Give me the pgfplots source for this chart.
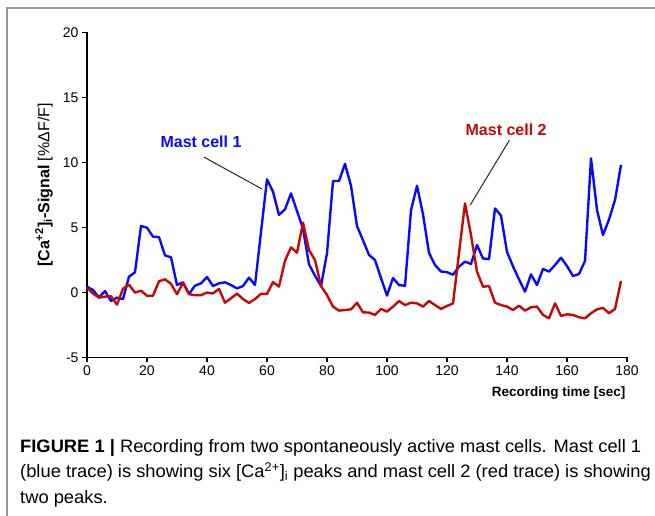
\documentclass[border=0pt]{standalone}
\usepackage{fontspec}
\setmainfont{Liberation Sans}
\usepackage{pgfplots}
\pgfplotsset{compat=1.18}
\definecolor{cblue}{RGB}{10,10,250}
\definecolor{cred}{RGB}{196,8,8}
\definecolor{framegray}{RGB}{150,150,150}
\newsavebox\capbox
\begin{document}
\sbox\capbox{\fontsize{18}{18}\selectfont\textbf{FIGURE 1 |} Recording from two spontaneously active mast cells. Mast cell 1}%
\pgfmathsetmacro\sx{621/\the\wd\capbox}%
\begin{tikzpicture}
\path[use as bounding box] (0pt,0pt) rectangle (655pt,-515pt);
\draw[framegray, line width=1.5pt] (7pt,-516pt) -- (7pt,-8pt) -- (656pt,-8pt);
\begin{axis}[
  at={(87pt,-357.3pt)}, anchor=south west,
  scale only axis, width=540pt, height=325pt,
  xmin=0, xmax=180, ymin=-5, ymax=20,
  xtick={0,20,...,180}, ytick={-5,0,...,20},
  axis x line=bottom, axis y line=left,
  axis line style={-, line width=1.2pt, black},
  tick align=outside, major tick length=5pt,
  tick style={black, line width=1.2pt},
  ticklabel style={font=\fontsize{14}{14}\selectfont},
  /pgf/number format/assume math mode=true,
  clip=false,
]
\addplot[cblue, line width=2.4pt, line join=round] coordinates {
(0,0.43)(2,0.18)(4,-0.39)(6,0.1)(8,-0.67)(10,-0.41)(12,-0.52)(14,1.2)(16,1.54)(18,5.1)
(20,4.97)(22,4.28)(24,4.25)(26,2.84)(28,2.69)(30,0.56)(32,0.77)(34,-0.13)(36,0.51)(38,0.69)
(40,1.18)(42,0.48)(44,0.69)(46,0.77)(48,0.56)(50,0.3)(52,0.48)(54,1.13)(56,0.56)(60,8.69)
(62,7.74)(64,5.95)(66,6.38)(68,7.61)(70,6.25)(72,4.9)(74,2.15)(76,1.28)(78,0.48)(80,3.0)
(82,8.56)(84,8.56)(86,9.88)(88,8.2)(90,5.1)(92,4.0)(94,2.88)(96,2.48)(98,1.1)(100,-0.25)
(102,1.1)(104,0.56)(106,0.5)(108,6.3)(110,8.2)(112,6.0)(114,3.03)(116,2.1)(118,1.6)(120,1.55)
(122,1.35)(124,1.97)(126,2.36)(128,2.18)(130,3.64)(132,2.6)(134,2.55)(136,6.45)(138,5.9)(140,3.1)
(142,2.0)(144,1.0)(146,0.05)(148,1.38)(150,0.56)(152,1.8)(154,1.59)(156,2.1)(158,2.66)(160,2.02)
(162,1.25)(164,1.41)(166,2.41)(168,10.3)(170,6.33)(172,4.4)(174,5.6)(176,7.1)(178,9.8)
};
\addplot[cred, line width=2.4pt, line join=round] coordinates {
(0,0.37)(2,-0.1)(4,-0.41)(6,-0.33)(8,-0.3)(10,-0.95)(12,0.28)(14,0.58)(16,-0.02)(18,0.12)
(20,-0.27)(22,-0.26)(24,0.85)(26,1.0)(28,0.65)(30,-0.15)(32,0.72)(34,-0.14)(36,-0.23)(38,-0.22)
(40,-0.02)(42,-0.09)(44,0.27)(46,-0.8)(48,-0.46)(50,-0.1)(52,-0.52)(54,-0.82)(56,-0.52)(58,-0.12)
(60,-0.12)(62,0.78)(64,0.44)(66,2.43)(68,3.46)(70,3.05)(72,5.36)(74,3.25)(76,2.48)(78,0.48)
(80,-0.21)(82,-1.1)(84,-1.41)(86,-1.36)(88,-1.31)(90,-0.8)(92,-1.54)(94,-1.56)(96,-1.74)(98,-1.28)
(100,-1.49)(102,-1.1)(104,-0.67)(106,-0.98)(108,-0.8)(110,-0.85)(112,-1.1)(114,-0.67)(116,-0.98)(118,-1.28)
(120,-1.05)(122,-0.85)(126,6.84)(128,4.4)(130,1.59)(132,0.43)(134,0.48)(136,-0.8)(138,-0.98)(140,-1.1)
(142,-1.36)(144,-1.03)(146,-1.41)(148,-1.15)(150,-1.1)(152,-1.74)(154,-2.0)(156,-0.85)(158,-1.82)(160,-1.69)
(162,-1.74)(164,-1.92)(166,-2.0)(168,-1.61)(170,-1.31)(172,-1.2)(174,-1.61)(176,-1.28)(178,0.87)
};
\draw[black!85, line width=1pt] (axis cs:39,10.4) -- (axis cs:58.3,7.95);
\draw[black!85, line width=1pt] (axis cs:140.8,11.7) -- (axis cs:127.7,6.7);
\node[cblue, font=\bfseries\fontsize{16}{16}\selectfont] at (axis cs:38,11.56) {Mast cell 1};
\node[cred, font=\bfseries\fontsize{16}{16}\selectfont] at (axis cs:139.7,12.5) {Mast cell 2};
\end{axis}
\node[anchor=east, font=\bfseries\fontsize{13.5}{13.5}\selectfont] at (629pt,-393pt) {Recording time [sec]};
\node[rotate=90, font=\fontsize{16}{16}\selectfont] at (44pt,-185pt) {\textbf{[Ca\textsuperscript{+2}]\textsubscript{i}-Signal} [\%ΔF/F]};
\node[anchor=base west, inner sep=0pt] at (20pt,-452pt) {\scalebox{\sx}[1]{\usebox\capbox}};
\node[anchor=base west, inner sep=0pt] at (20pt,-477.5pt) {\scalebox{\sx}[1]{\fontsize{18}{18}\selectfont (blue trace) is showing six [Ca\textsuperscript{2+}]\textsubscript{i} peaks and mast cell 2 (red trace) is showing}};
\node[anchor=base west, inner sep=0pt] at (20pt,-503pt) {\scalebox{\sx}[1]{\fontsize{18}{18}\selectfont two peaks.}};
\end{tikzpicture}
\end{document}
